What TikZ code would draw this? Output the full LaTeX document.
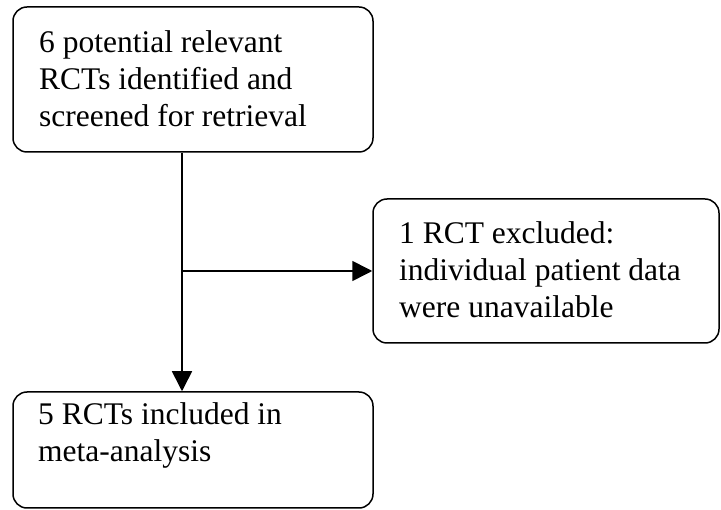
\documentclass[tikz,border=0pt]{standalone}
\usepackage{fontspec}
\setmainfont{Liberation Serif}
\usetikzlibrary{arrows.meta}
\begin{document}
\begin{tikzpicture}[x=1pt,y=-1pt,
  box/.style={draw=black,line width=1.5pt,rounded corners=14pt,inner sep=0pt},
  txt/.style={align=left,inner sep=0pt,anchor=base west,font=\fontsize{31.5}{37}\selectfont},
  arr/.style={line width=1.6pt,-{Triangle[length=20pt,width=20pt]}}]
\useasboundingbox (0,0) rectangle (721,510);
\node[box,minimum width=360pt,minimum height=145pt] (top) at (193,79.5) {};
\node[box,minimum width=346pt,minimum height=144pt] (right) at (546,271) {};
\node[box,minimum width=360pt,minimum height=116pt] (bot) at (193,450) {};
\node[txt] (ttop) at (39,126.7) {6 potential relevant\\RCTs identified and\\screened for retrieval};
\node[txt] (tright) at (399,318) {1 RCT excluded:\\individual patient data\\were unavailable};
\node[txt] (tbot) at (38,462) {5 RCTs included in\\meta-analysis};
\coordinate (j) at (182,271);
\draw[arr] (top.south -| j) -- (bot.north -| j);
\draw[arr] (j) -- (right.west);
\end{tikzpicture}
\end{document}
